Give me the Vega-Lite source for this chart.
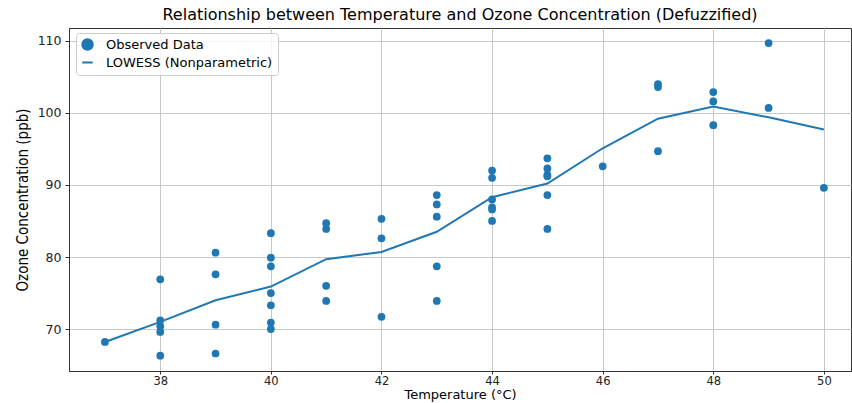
{
  "$schema": "https://vega.github.io/schema/vega-lite/v6.json",
  "width": 782,
  "height": 343,
  "autosize": "none",
  "padding": {"left": 69, "top": 28, "right": 1, "bottom": 32},
  "background": "white",
  "title": {"text": "Relationship between Temperature and Ozone Concentration (Defuzzified)", "font": "DejaVu Sans", "fontSize": 16, "fontWeight": "normal", "color": "#000000", "offset": 5, "anchor": "middle"},
  "config": {
    "view": {"stroke": "#333333", "strokeWidth": 1},
    "axis": {"labelFont": "DejaVu Sans", "labelFontSize": 12.5, "labelColor": "#222222", "titleFont": "DejaVu Sans", "titleFontSize": 14, "titleFontWeight": "normal", "titleColor": "#000000", "domainColor": "#333333", "tickColor": "#333333", "tickSize": 4, "gridColor": "#c8c8c8", "gridWidth": 1}
  },
  "datasets": {
    "obs": [
      {"temp": 37, "ozone": 68.2, "series": "Observed Data"},
      {"temp": 38, "ozone": 76.9, "series": "Observed Data"},
      {"temp": 38, "ozone": 71.2, "series": "Observed Data"},
      {"temp": 38, "ozone": 70.4, "series": "Observed Data"},
      {"temp": 38, "ozone": 69.6, "series": "Observed Data"},
      {"temp": 38, "ozone": 66.3, "series": "Observed Data"},
      {"temp": 39, "ozone": 80.6, "series": "Observed Data"},
      {"temp": 39, "ozone": 77.6, "series": "Observed Data"},
      {"temp": 39, "ozone": 70.6, "series": "Observed Data"},
      {"temp": 39, "ozone": 66.6, "series": "Observed Data"},
      {"temp": 40, "ozone": 83.3, "series": "Observed Data"},
      {"temp": 40, "ozone": 79.9, "series": "Observed Data"},
      {"temp": 40, "ozone": 78.7, "series": "Observed Data"},
      {"temp": 40, "ozone": 75.0, "series": "Observed Data"},
      {"temp": 40, "ozone": 73.3, "series": "Observed Data"},
      {"temp": 40, "ozone": 70.9, "series": "Observed Data"},
      {"temp": 40, "ozone": 70.0, "series": "Observed Data"},
      {"temp": 41, "ozone": 84.7, "series": "Observed Data"},
      {"temp": 41, "ozone": 83.9, "series": "Observed Data"},
      {"temp": 41, "ozone": 76.0, "series": "Observed Data"},
      {"temp": 41, "ozone": 73.9, "series": "Observed Data"},
      {"temp": 42, "ozone": 85.3, "series": "Observed Data"},
      {"temp": 42, "ozone": 82.6, "series": "Observed Data"},
      {"temp": 42, "ozone": 71.7, "series": "Observed Data"},
      {"temp": 43, "ozone": 88.6, "series": "Observed Data"},
      {"temp": 43, "ozone": 87.3, "series": "Observed Data"},
      {"temp": 43, "ozone": 85.6, "series": "Observed Data"},
      {"temp": 43, "ozone": 78.7, "series": "Observed Data"},
      {"temp": 43, "ozone": 73.9, "series": "Observed Data"},
      {"temp": 44, "ozone": 92.0, "series": "Observed Data"},
      {"temp": 44, "ozone": 91.0, "series": "Observed Data"},
      {"temp": 44, "ozone": 88.0, "series": "Observed Data"},
      {"temp": 44, "ozone": 86.9, "series": "Observed Data"},
      {"temp": 44, "ozone": 86.6, "series": "Observed Data"},
      {"temp": 44, "ozone": 85.0, "series": "Observed Data"},
      {"temp": 45, "ozone": 93.7, "series": "Observed Data"},
      {"temp": 45, "ozone": 92.3, "series": "Observed Data"},
      {"temp": 45, "ozone": 91.4, "series": "Observed Data"},
      {"temp": 45, "ozone": 91.2, "series": "Observed Data"},
      {"temp": 45, "ozone": 88.6, "series": "Observed Data"},
      {"temp": 45, "ozone": 83.9, "series": "Observed Data"},
      {"temp": 46, "ozone": 92.6, "series": "Observed Data"},
      {"temp": 47, "ozone": 104.0, "series": "Observed Data"},
      {"temp": 47, "ozone": 103.6, "series": "Observed Data"},
      {"temp": 47, "ozone": 94.7, "series": "Observed Data"},
      {"temp": 48, "ozone": 102.9, "series": "Observed Data"},
      {"temp": 48, "ozone": 101.6, "series": "Observed Data"},
      {"temp": 48, "ozone": 98.3, "series": "Observed Data"},
      {"temp": 49, "ozone": 109.7, "series": "Observed Data"},
      {"temp": 49, "ozone": 100.7, "series": "Observed Data"},
      {"temp": 50, "ozone": 89.6, "series": "Observed Data"}
    ],
    "fit": [
      {"temp": 37, "ozone": 68.2, "series": "LOWESS (Nonparametric)"},
      {"temp": 38, "ozone": 71.0, "series": "LOWESS (Nonparametric)"},
      {"temp": 39, "ozone": 74.0, "series": "LOWESS (Nonparametric)"},
      {"temp": 40, "ozone": 75.9, "series": "LOWESS (Nonparametric)"},
      {"temp": 41, "ozone": 79.7, "series": "LOWESS (Nonparametric)"},
      {"temp": 42, "ozone": 80.7, "series": "LOWESS (Nonparametric)"},
      {"temp": 43, "ozone": 83.5, "series": "LOWESS (Nonparametric)"},
      {"temp": 44, "ozone": 88.3, "series": "LOWESS (Nonparametric)"},
      {"temp": 45, "ozone": 90.2, "series": "LOWESS (Nonparametric)"},
      {"temp": 46, "ozone": 95.1, "series": "LOWESS (Nonparametric)"},
      {"temp": 47, "ozone": 99.2, "series": "LOWESS (Nonparametric)"},
      {"temp": 48, "ozone": 100.9, "series": "LOWESS (Nonparametric)"},
      {"temp": 49, "ozone": 99.4, "series": "LOWESS (Nonparametric)"},
      {"temp": 50, "ozone": 97.7, "series": "LOWESS (Nonparametric)"}
    ]
  },
  "layer": [
    {
      "data": {"name": "obs"},
      "mark": {"type": "point", "filled": true, "opacity": 1, "size": 60},
      "encoding": {
        "x": {"field": "temp", "type": "quantitative", "scale": {"domain": [36.35, 50.49], "nice": false, "zero": false}, "axis": {"title": "Temperature (°C)", "values": [38, 40, 42, 44, 46, 48, 50], "format": "d", "labelFontSize": 11.5, "titleFontSize": 13, "titlePadding": 2, "labelPadding": 1, "tickSize": 3}},
        "y": {"field": "ozone", "type": "quantitative", "scale": {"domain": [64.17, 111.8], "nice": false, "zero": false}, "axis": {"title": "Ozone Concentration (ppb)", "values": [70, 80, 90, 100, 110], "format": "d", "titleFont": "Liberation Sans Narrow, DejaVu Sans Condensed, Liberation Sans", "titleFontSize": 15, "titlePadding": 7, "labelPadding": 4}},
        "color": {"field": "series", "type": "nominal", "scale": {"domain": ["Observed Data", "LOWESS (Nonparametric)"], "range": ["#1f77b4", "#1f77b4"]}, "legend": {"title": null, "orient": "none", "legendX": 7, "legendY": 5, "padding": 5, "strokeColor": "#cccccc", "fillColor": "rgba(255,255,255,0.8)", "cornerRadius": 3, "labelFont": "DejaVu Sans", "labelFontSize": 13, "labelLimit": 400, "labelColor": "#000000", "symbolSize": 110, "symbolStrokeColor": "#1f77b4", "symbolStrokeWidth": 2, "rowPadding": 2, "labelOffset": 12}},
        "shape": {"field": "series", "type": "nominal", "scale": {"domain": ["Observed Data", "LOWESS (Nonparametric)"], "range": ["circle", "stroke"]}}
      }
    },
    {
      "data": {"name": "fit"},
      "mark": {"type": "line", "strokeWidth": 2, "color": "#1f77b4"},
      "encoding": {
        "x": {"field": "temp", "type": "quantitative"},
        "y": {"field": "ozone", "type": "quantitative"},
        "color": {"field": "series", "type": "nominal"}
      }
    }
  ]
}
